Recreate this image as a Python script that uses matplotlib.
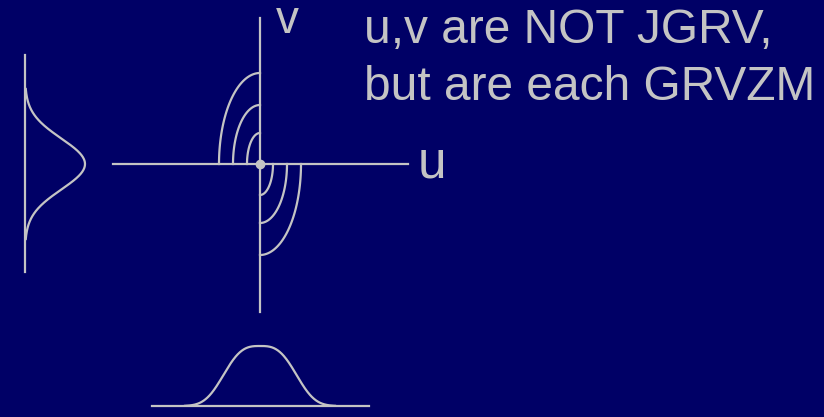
import numpy as np
import matplotlib.pyplot as plt

plt.rcParams['font.family'] = ['Liberation Sans', 'DejaVu Sans']

bg = '#000066'
ink = '#c4c4c4'

# joint-density sketch, all in pixel units of the slide
origin = (260, 164)
v_axis = (18, 312)          # top, bottom of the v axis
u_axis = (113, 408)         # left, right of the u axis
arc_w = [13, 27, 41]        # half-widths of the contour arcs
arc_h = [31, 59, 91]        # half-heights of the contour arcs

# marginal of v (drawn on its side at the left)
v_base_x = 25
v_base_span = (55, 272)
v_peak = 60
v_scale = 36
v_power = 2

# marginal of u (drawn along the bottom)
u_base_y = 406
u_base_span = (152, 369)
u_peak = 60
u_scale = 42
u_power = 3

title_lines = ['u,v are NOT JGRV,', 'but are each GRVZM']

fig = plt.figure(figsize=(8.24, 4.17), dpi=100)
fig.patch.set_facecolor(bg)
ax = fig.add_axes([0, 0, 1, 1])
ax.set_facecolor(bg)
ax.set_xlim(0, 824)
ax.set_ylim(417, 0)
ax.axis('off')

lw = 1.6
x0, y0 = origin

# axes
ax.plot([x0, x0], v_axis, color=ink, lw=lw)
ax.plot(u_axis, [y0, y0], color=ink, lw=lw)
ax.plot([x0], [y0], 'o', color=ink, ms=6)

# quarter-ellipse contours: upper-left and lower-right quadrants only
t = np.linspace(0, np.pi / 2, 100)
for a, b in zip(arc_w, arc_h):
    ax.plot(x0 - a * np.cos(t), y0 - b * np.sin(t), color=ink, lw=lw)
    ax.plot(x0 + a * np.cos(t), y0 + b * np.sin(t), color=ink, lw=lw)

# left marginal
ax.plot([v_base_x, v_base_x], v_base_span, color=ink, lw=lw)
yy = np.linspace(y0 - 75, y0 + 75, 300)
ax.plot(v_base_x + v_peak * np.exp(-np.abs((yy - y0) / v_scale) ** v_power), yy,
        color=ink, lw=lw)

# bottom marginal
ax.plot(u_base_span, [u_base_y, u_base_y], color=ink, lw=lw)
xx = np.linspace(x0 - 75, x0 + 75, 300)
ax.plot(xx, u_base_y - u_peak * np.exp(-np.abs((xx - x0) / u_scale) ** u_power),
        color=ink, lw=lw)

# labels
ax.text(276, 33, 'v', color=ink, fontsize=33, va='baseline', ha='left')
ax.text(418, 177, 'u', color=ink, fontsize=37, va='baseline', ha='left')
ax.text(364, 43, title_lines[0], color=ink, fontsize=34.5, va='baseline', ha='left')
ax.text(364, 100, title_lines[1], color=ink, fontsize=34.5, va='baseline', ha='left')

fig.savefig('out.png', dpi=100, facecolor=bg)
